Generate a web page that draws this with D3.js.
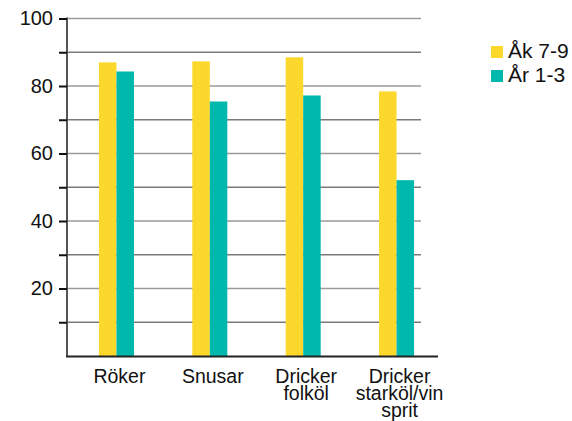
<!DOCTYPE html>
<html><head><meta charset="utf-8">
<script src="https://cdn.jsdelivr.net/npm/d3@7"></script>
<style>body{margin:0;background:#fff}svg text{font-family:"Liberation Sans",Arial,sans-serif;fill:#111}</style>
</head><body><svg id="c" width="572" height="421"></svg>
<script>
const categories = [["Röker"],["Snusar"],["Dricker","folköl"],["Dricker","starköl/vin","sprit"]];
const seriesNames = ["Åk 7-9","År 1-3"];
const akValues = [87.0, 87.3, 88.5, 78.4];
const arValues = [84.3, 75.4, 77.2, 52.1];
const colors = ["#FBD82B","#00B8AC"];
const yTicks = [10,20,30,40,50,60,70,80,90,100];
const yLabels = [20,40,60,80,100];

const svg = d3.select("#c");
const x0 = d3.scaleBand().domain(d3.range(categories.length)).range([70,443]).paddingInner(0.625).paddingOuter(0.31);
const x1 = d3.scaleBand().domain([0,1]).range([0,x0.bandwidth()]);
const y = d3.scaleLinear().domain([0,100]).range([356,18.5]);

// gridlines
svg.append("g").selectAll("line").data(yTicks).join("line")
  .attr("x1",67).attr("x2",421).attr("y1",d=>y(d)).attr("y2",d=>y(d))
  .attr("stroke",d=>d%20===0?"#9a9a9a":"#7a7a7a").attr("stroke-width",1.6);

// bars
const data = categories.map((c,i)=>({i, vals:[akValues[i], arValues[i]]}));
const g = svg.append("g").selectAll("g").data(data).join("g")
  .attr("transform",d=>`translate(${x0(d.i)},0)`);
g.selectAll("rect").data(d=>d.vals.map((v,k)=>({v,k}))).join("rect")
  .attr("x",d=>x1(d.k)).attr("width",x1.bandwidth())
  .attr("y",d=>y(d.v)).attr("height",d=>y(0)-y(d.v))
  .attr("fill",d=>colors[d.k]);

// y axis
const yAxis = d3.axisLeft(y).tickValues(yTicks).tickSize(8).tickPadding(6)
  .tickFormat(d=>yLabels.includes(d)?d:"");
const ya = svg.append("g").attr("transform","translate(67,0)").call(yAxis);
ya.select(".domain").attr("d",`M0,${y(100)-1}V${y(0)+1}`).attr("stroke","#555").attr("stroke-width",2);
ya.selectAll(".tick line").attr("stroke","#111").attr("stroke-width",2);
ya.selectAll(".tick text").attr("font-size",20).style("font-family","'Liberation Sans',Arial,sans-serif").attr("fill","#111");

// x axis line
svg.append("line").attr("x1",66).attr("x2",438).attr("y1",y(0)+0.5).attr("y2",y(0)+0.5)
  .attr("stroke","#222").attr("stroke-width",2);

// x labels (one text per line)
const xg = svg.append("g").selectAll("g").data(categories).join("g")
  .attr("transform",(d,i)=>`translate(${x0(i)+x0.bandwidth()/2+3},383)`);
xg.selectAll("text").data(d=>d).join("text")
  .attr("text-anchor","middle").attr("font-size",19.5)
  .attr("y",(d,j)=>j*16.8).text(d=>d);

// legend
const lg = svg.append("g").selectAll("g").data(seriesNames).join("g")
  .attr("transform",(d,i)=>`translate(491,${46+i*24})`);
lg.append("rect").attr("width",12).attr("height",12).attr("fill",(d,i)=>colors[i]);
lg.append("text").attr("x",17).attr("y",11.8).attr("font-size",21).text(d=>d);
</script></body></html>
